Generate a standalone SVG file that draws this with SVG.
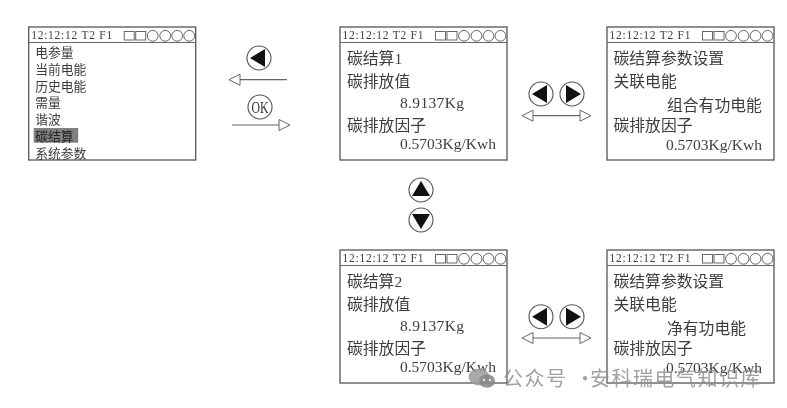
<svg xmlns="http://www.w3.org/2000/svg" width="787" height="408" viewBox="0 0 787 408">
<style>
.frame{fill:#fff;stroke:#555;stroke-width:1.3}
.thin{fill:none;stroke:#666;stroke-width:1}
.head{fill:#fff;stroke:#666;stroke-width:1}
.line{fill:none;stroke:#666;stroke-width:1.2}
.btn{fill:#fff;stroke:#555;stroke-width:1.1}
text{fill:#3c3c3c}
.st{font:11.5px "Liberation Serif","Noto Sans CJK SC",serif}
.menu{font:400 12.8px "Noto Sans CJK SC",serif}
.cn{font:400 15.8px "Noto Sans CJK SC",serif}
.num{font:15.5px "Liberation Serif",serif}
.ok{font:16px "Liberation Serif",serif;fill:#333}
.wm{font:20px "Noto Sans CJK SC",sans-serif;letter-spacing:1.5px;fill:#8f8f8f;fill-opacity:.85}
.soft{filter:blur(.35px)}
</style>
<defs>
<g id="screen">
<rect class="frame" x="0" y="0" width="167" height="133"/>
<line class="line" x1="0" y1="15.5" x2="167" y2="15.5"/>
<text class="st" x="2.5" y="11.5" textLength="81" lengthAdjust="spacing">12:12:12 T2 F1</text>
<rect class="thin" x="95.5" y="4.5" width="10" height="8.5"/>
<rect class="thin" x="107" y="4.5" width="10" height="8.5"/>
<circle class="thin" cx="124" cy="8.8" r="5.4"/>
<circle class="thin" cx="136.5" cy="8.8" r="5.4"/>
<circle class="thin" cx="148.5" cy="8.8" r="5.4"/>
<circle class="thin" cx="160.5" cy="8.8" r="5.4"/>
</g>
<g id="bl"><circle class="btn" r="12"/><path d="M-9,0 L6,-9 V9Z" fill="#111"/></g>
<g id="br"><circle class="btn" r="12"/><path d="M9,0 L-6,-9 V9Z" fill="#111"/></g>
<g id="bu"><circle class="btn" r="12"/><path d="M0,-9 L9,6 H-9Z" fill="#111"/></g>
<g id="bd"><circle class="btn" r="12"/><path d="M0,9 L9,-6 H-9Z" fill="#111"/></g>
<g id="dbl">
<line class="line" x1="533" y1="0" x2="580" y2="0"/>
<path class="head" d="M522,0 L533,-5.5 V5.5Z"/>
<path class="head" d="M591,0 L580,-5.5 V5.5Z"/>
</g>
</defs>

<g id="node-menu" class="soft" transform="translate(28.7,27)">
<use href="#screen"/>
<rect x="5" y="101" width="44.5" height="14.7" fill="#808080"/>
<text class="menu" x="6.5" y="29.5">电参量</text>
<text class="menu" x="6.5" y="46.8">当前电能</text>
<text class="menu" x="6.5" y="63.6">历史电能</text>
<text class="menu" x="6.5" y="80.3">需量</text>
<text class="menu" x="6.5" y="97">谐波</text>
<text class="menu" x="6.5" y="113.7" style="fill:#222">碳结算</text>
<text class="menu" x="6.5" y="130.5">系统参数</text>
</g>

<g id="node-carbon1" class="soft" transform="translate(340,27)">
<use href="#screen"/>
<text class="cn" x="7" y="36.5">碳结算<tspan class="num">1</tspan></text>
<text class="cn" x="7" y="60">碳排放值</text>
<text class="num" x="60" y="80.5" textLength="64">8.9137Kg</text>
<text class="cn" x="7" y="103.5">碳排放因子</text>
<text class="num" x="60" y="122" textLength="96">0.5703Kg/Kwh</text>
</g>

<g id="node-settings1" class="soft" transform="translate(607,27)">
<use href="#screen"/>
<text class="cn" x="6.5" y="36.5">碳结算参数设置</text>
<text class="cn" x="6.5" y="60">关联电能</text>
<text class="cn" x="60" y="83.5">组合有功电能</text>
<text class="cn" x="6.5" y="103.5">碳排放因子</text>
<text class="num" x="59" y="122.5" textLength="96">0.5703Kg/Kwh</text>
</g>

<g id="node-carbon2" class="soft" transform="translate(340,250)">
<use href="#screen"/>
<text class="cn" x="7" y="36.5">碳结算<tspan class="num">2</tspan></text>
<text class="cn" x="7" y="60">碳排放值</text>
<text class="num" x="60" y="80.5" textLength="64">8.9137Kg</text>
<text class="cn" x="7" y="103.5">碳排放因子</text>
<text class="num" x="60" y="122" textLength="96">0.5703Kg/Kwh</text>
</g>

<g id="node-settings2" class="soft" transform="translate(607,250)">
<use href="#screen"/>
<text class="cn" x="6.5" y="36.5">碳结算参数设置</text>
<text class="cn" x="6.5" y="60">关联电能</text>
<text class="cn" x="60" y="83.5">净有功电能</text>
<text class="cn" x="6.5" y="103.5">碳排放因子</text>
<text class="num" x="59" y="122.5" textLength="96">0.5703Kg/Kwh</text>
</g>

<g id="connectors" class="soft">
<line class="line" x1="240" y1="79.7" x2="287" y2="79.7"/>
<path class="head" d="M229,79.7 L240,74.2 V85.2Z"/>
<line class="line" x1="232" y1="125" x2="279" y2="125"/>
<path class="head" d="M290,125 L279,119.5 V130.5Z"/>
<use href="#dbl" y="115.7"/>
<use href="#dbl" y="338"/>
</g>

<g id="buttons" class="soft">
<use href="#bl" x="259" y="58"/>
<g transform="translate(260,107)"><circle class="btn" r="12"/><text class="ok" x="0" y="5.5" text-anchor="middle" textLength="17" lengthAdjust="spacingAndGlyphs">OK</text></g>
<use href="#bl" x="541" y="94"/>
<use href="#br" x="572" y="94"/>
<use href="#bu" x="421" y="190"/>
<use href="#bd" x="421" y="220"/>
<use href="#bl" x="541" y="316.7"/>
<use href="#br" x="572" y="316.7"/>
</g>

<g id="watermark" class="soft">
<ellipse cx="479" cy="377" rx="10.5" ry="8.5" fill="#9a9a9a" fill-opacity=".85"/>
<ellipse cx="487" cy="381" rx="8" ry="6.8" fill="#8a8a8a" fill-opacity=".9"/>
<circle cx="484" cy="380" r="1.1" fill="#fff"/>
<circle cx="490" cy="380" r="1.1" fill="#fff"/>
<text class="wm" x="503" y="386">公众号 <tspan x="575">· </tspan><tspan x="590">安科瑞电气知识库</tspan></text>
</g>
</svg>
